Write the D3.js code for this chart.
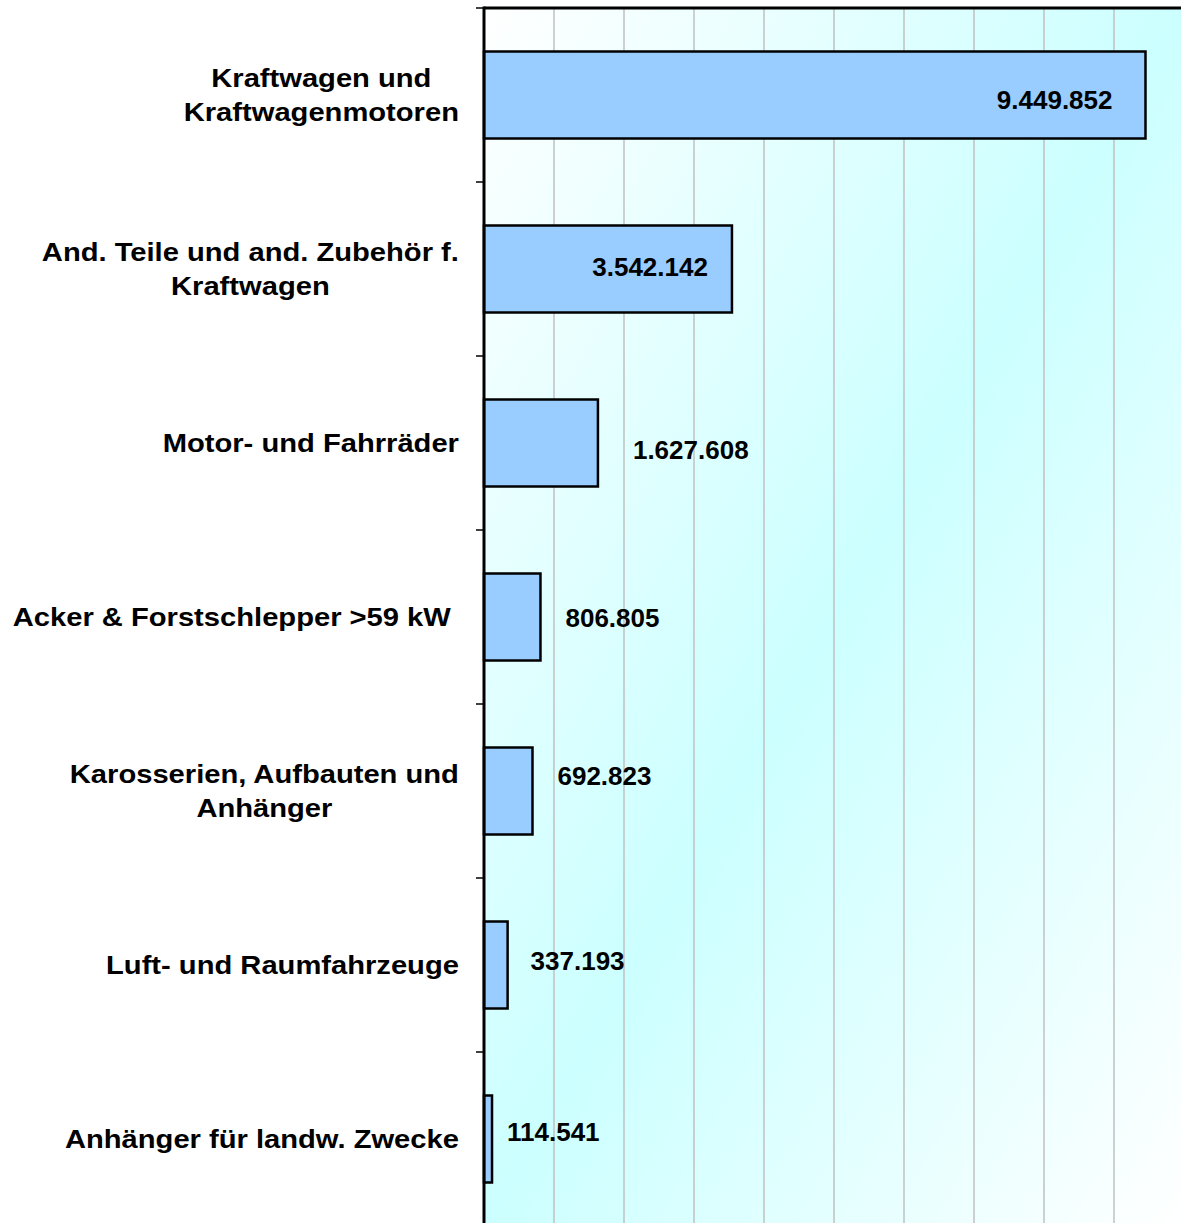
<!DOCTYPE html>
<html>
<head>
<meta charset="utf-8">
<script src="https://cdn.jsdelivr.net/npm/d3@7"></script>
<style>
  html, body { margin: 0; padding: 0; background: #fff; }
  svg { display: block; }
</style>
</head>
<body>
<svg id="canvas"></svg>
<script>
const categories = [
    ["Kraftwagen und", "Kraftwagenmotoren"],
    ["And. Teile und and. Zubehör f.", "Kraftwagen"],
    ["Motor- und Fahrräder"],
    ["Acker & Forstschlepper >59 kW "],
    ["Karosserien, Aufbauten und", "Anhänger"],
    ["Luft- und Raumfahrzeuge"],
    ["Anhänger für landw. Zwecke"]
];
const values = [9449852, 3542142, 1627608, 806805, 692823, 337193, 114541];
const valueLabels = ["9.449.852", "3.542.142", "1.627.608", "806.805", "692.823", "337.193", "114.541"];
const xTicks = [0, 1000000, 2000000, 3000000, 4000000, 5000000, 6000000, 7000000, 8000000, 9000000, 10000000];

// hand placed value labels in the original: [dx from bar end, dy from band centre]
const labelNudge = [[-33, 5], [-24, -2], [35, 7], [25, 1], [25, -15], [23, -4], [15, -7]];

const width = 1181;
const height = 1223;
const plot = { left: 484, top: 8, right: 1184, bottom: 1226 };
const fontFamily = "Arial, 'Liberation Sans', Helvetica, sans-serif";

const svg = d3.select("#canvas")
    .attr("width", width)
    .attr("height", height);

const keys = categories.map((c, i) => i);

const scaleX = d3.scaleLinear()
    .domain([0, 10000000])
    .range([plot.left, plot.right]);
const scaleY = d3.scaleBand()
    .domain(keys)
    .range([plot.top, plot.bottom])
    .paddingInner(0.5)
    .paddingOuter(0.25);

const grad = svg.append("defs").append("linearGradient")
    .attr("id", "bg")
    .attr("x1", 0).attr("y1", 0).attr("x2", 1).attr("y2", 1);
grad.append("stop").attr("offset", 0).attr("stop-color", "#ffffff");
grad.append("stop").attr("offset", 0.5).attr("stop-color", "#ccffff");
grad.append("stop").attr("offset", 1).attr("stop-color", "#ffffff");

svg.append("rect")
    .attr("x", plot.left).attr("y", plot.top)
    .attr("width", plot.right - plot.left)
    .attr("height", plot.bottom - plot.top)
    .attr("fill", "url(#bg)");

// vertical grid
svg.append("g")
    .selectAll("line")
    .data(xTicks.slice(1))
    .join("line")
    .attr("x1", d => scaleX(d)).attr("x2", d => scaleX(d))
    .attr("y1", plot.top).attr("y2", plot.bottom)
    .attr("stroke", "#c0c0c0")
    .attr("stroke-width", 1.5);

// top border
svg.append("line")
    .attr("x1", plot.left).attr("x2", plot.right)
    .attr("y1", plot.top).attr("y2", plot.top)
    .attr("stroke", "#000").attr("stroke-width", 3);

// bars
svg.append("g")
    .selectAll("rect")
    .data(values)
    .join("rect")
    .attr("x", scaleX(0))
    .attr("y", (d, i) => scaleY(i))
    .attr("width", d => scaleX(d) - scaleX(0))
    .attr("height", scaleY.bandwidth())
    .attr("fill", "#99ccff")
    .attr("stroke", "#000")
    .attr("stroke-width", 2.5);

// category axis with ticks at band boundaries
const step = scaleY.step();
const axisG = svg.append("g");
axisG.append("line")
    .attr("x1", plot.left).attr("x2", plot.left)
    .attr("y1", plot.top - 1.5).attr("y2", plot.bottom)
    .attr("stroke", "#000").attr("stroke-width", 3);
axisG.selectAll("line.tick")
    .data(d3.range(categories.length + 1))
    .join("line")
    .classed("tick", true)
    .attr("x1", plot.left - 8).attr("x2", plot.left)
    .attr("y1", i => plot.top + i * step).attr("y2", i => plot.top + i * step)
    .attr("stroke", "#000").attr("stroke-width", 1.5);

// category labels: lines centred on each other, block right-aligned,
// glyphs a little wider than plain Arial in the original
const lineH = 34;
const labelRight = 459;
const stretch = 1.1;
const labelG = svg.append("g");
categories.forEach((lines, i) => {
    const cy = scaleY(i) + scaleY.bandwidth() / 2;
    const g = labelG.append("g");
    const texts = lines.map((t, j) => g.append("text")
        .attr("font-family", fontFamily)
        .attr("font-weight", "bold")
        .attr("font-size", 26.5)
        .attr("text-anchor", "middle")
        .style("white-space", "pre")
        .attr("x", 0)
        .attr("y", cy + (j - (lines.length - 1) / 2) * lineH + 9)
        .text(t));
    const maxW = d3.max(texts, t => t.node().getComputedTextLength()) * stretch;
    g.attr("transform", `translate(${labelRight - maxW / 2}, 0) scale(${stretch}, 1)`);
});

// value labels
svg.append("g")
    .selectAll("text")
    .data(values)
    .join("text")
    .attr("font-family", fontFamily)
    .attr("font-weight", "bold")
    .attr("font-size", 26)
    .attr("text-anchor", (d, i) => labelNudge[i][0] < 0 ? "end" : "start")
    .attr("x", (d, i) => scaleX(d) + labelNudge[i][0])
    .attr("y", (d, i) => scaleY(i) + scaleY.bandwidth() / 2 + labelNudge[i][1] + 9)
    .text((d, i) => valueLabels[i]);
</script>
</body>
</html>
